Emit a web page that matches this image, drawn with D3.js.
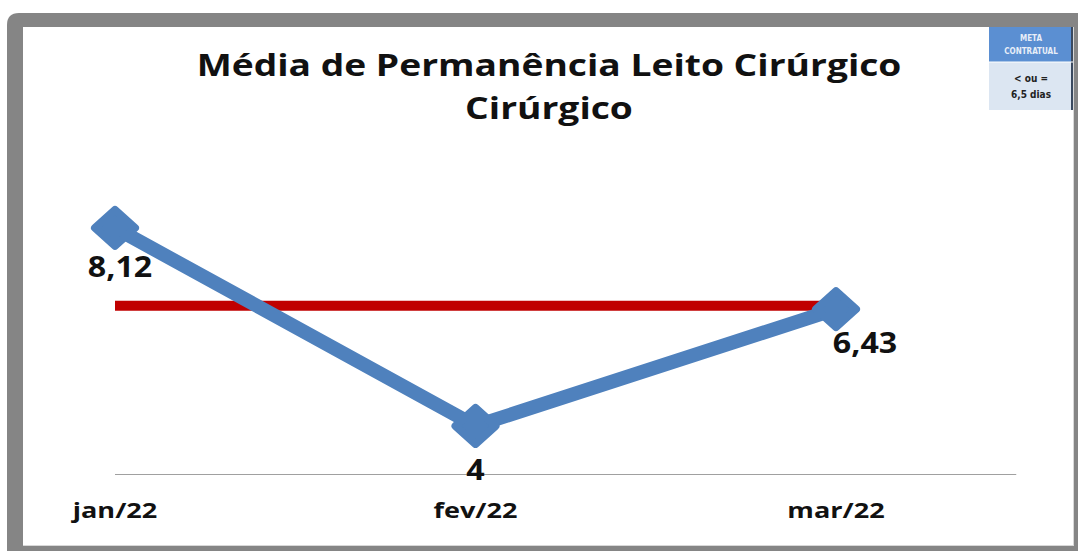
<!DOCTYPE html>
<html lang="pt">
<head>
<meta charset="utf-8">
<script src="https://cdn.jsdelivr.net/npm/d3@7"></script>
<style>
  body { margin: 0; background: #fff; }
  svg { display: block; }
</style>
</head>
<body>
<script>
var months = ["jan/22", "fev/22", "mar/22"];
var media = [8.12, 4, 6.43];
var mediaLabels = ["8,12", "4", "6,43"];
var meta = [6.5, 6.5, 6.5];
var titleLines = ["Média de Permanência Leito Cirúrgico", "Cirúrgico"];
var legendLines = ["META", "CONTRATUAL", "< ou =", "6,5 dias"];

var W = 1078, H = 551;

var svg = d3.select("body").append("svg")
  .attr("width", W)
  .attr("height", H);

// frame
svg.append("path")
  .attr("d", "M7,551 L7,25 Q7,13 19,13 L1078,13 L1078,551 Z")
  .attr("fill", "#858585");
svg.append("rect")
  .attr("x", 23).attr("y", 27)
  .attr("width", 1051).attr("height", 519)
  .attr("fill", "#fff");
svg.append("line")
  .attr("x1", 23).attr("x2", 1074).attr("y1", 545.5).attr("y2", 545.5)
  .attr("stroke", "#d8d8d8");
svg.append("line")
  .attr("x1", 1073.5).attr("x2", 1073.5).attr("y1", 27).attr("y2", 546)
  .attr("stroke", "#d8d8d8");

// title (stretched a bit wider, like the original)
svg.append("g")
  .attr("font-family", "'Open Sans', sans-serif")
  .attr("font-weight", "bold")
  .attr("font-size", 30)
  .attr("text-anchor", "middle")
  .attr("fill", "#111")
  .selectAll("text")
  .data(titleLines)
  .enter().append("text")
  .attr("transform", function(d, i) { return "translate(549," + (76 + i * 43) + ") scale(1.24,1)"; })
  .text(function(d) { return d; });

var x = d3.scalePoint()
  .domain(months)
  .range([115, 836]);

var y = d3.scaleLinear()
  .domain([3, 9])
  .range([474, 185.6]);

var step = x.step();

// x axis
svg.append("line")
  .attr("x1", x(months[0]))
  .attr("x2", x(months[2]) + step / 2)
  .attr("y1", y(3) + 0.5)
  .attr("y2", y(3) + 0.5)
  .attr("stroke", "#a0a0a0")
  .attr("stroke-width", 1);

svg.append("g")
  .attr("font-family", "'Open Sans', sans-serif")
  .attr("font-weight", "bold")
  .attr("font-size", 22)
  .attr("text-anchor", "middle")
  .attr("fill", "#111")
  .selectAll("text")
  .data(months)
  .enter().append("text")
  .attr("transform", function(d) { return "translate(" + x(d) + ",518) scale(1.23,1)"; })
  .text(function(d) { return d; });

// meta line
var line = d3.line()
  .x(function(d, i) { return x(months[i]); })
  .y(function(d) { return y(d); });

svg.append("path")
  .datum(meta)
  .attr("d", line)
  .attr("fill", "none")
  .attr("stroke", "#c00000")
  .attr("stroke-width", 10);

// media line
svg.append("path")
  .datum(media)
  .attr("d", line)
  .attr("fill", "none")
  .attr("stroke", "#4f81bd")
  .attr("stroke-width", 14)
  .attr("stroke-linejoin", "round");

var diamond = "M0,-18 L20,0 L0,18 L-20,0 Z";
svg.append("g")
  .selectAll("path")
  .data(media)
  .enter().append("path")
  .attr("transform", function(d, i) { return "translate(" + x(months[i]) + "," + y(d) + ")"; })
  .attr("d", diamond)
  .attr("fill", "#4f81bd")
  .attr("stroke", "#4f81bd")
  .attr("stroke-width", 8)
  .attr("stroke-linejoin", "round");

// data labels
var labelDx = [5, 0, 29];
var labelDy = [49, 54, 44];
svg.append("g")
  .attr("font-family", "'Open Sans', sans-serif")
  .attr("font-weight", "bold")
  .attr("font-size", 28)
  .attr("text-anchor", "middle")
  .attr("fill", "#111")
  .selectAll("text")
  .data(media)
  .enter().append("text")
  .attr("transform", function(d, i) {
    return "translate(" + (x(months[i]) + labelDx[i]) + "," + (y(d) + labelDy[i]) + ") scale(1.15,1)";
  })
  .text(function(d, i) { return mediaLabels[i]; });

// legend box
var lg = svg.append("g").attr("transform", "translate(989,27)");
lg.append("rect")
  .attr("width", 84).attr("height", 35)
  .attr("fill", "#5b8fd2");
lg.append("rect")
  .attr("y", 35)
  .attr("width", 84).attr("height", 48)
  .attr("fill", "#dce6f2");
lg.append("line")
  .attr("x1", 83).attr("x2", 83).attr("y1", 0).attr("y2", 83)
  .attr("stroke", "#3a4a60").attr("stroke-width", 2);
lg.append("line")
  .attr("x1", 0).attr("x2", 84).attr("y1", 35).attr("y2", 35)
  .attr("stroke", "#ffffff").attr("stroke-width", 1);

lg.append("g")
  .attr("font-family", "'DejaVu Sans Condensed', sans-serif")
  .attr("font-weight", "bold")
  .attr("text-anchor", "middle")
  .selectAll("text")
  .data(legendLines)
  .enter().append("text")
  .attr("x", 42)
  .attr("y", function(d, i) { return [14, 27, 55, 71][i]; })
  .attr("font-size", function(d, i) { return i < 2 ? 8 : 10; })
  .attr("fill", function(d, i) { return i < 2 ? "#e8eef8" : "#222"; })
  .text(function(d) { return d; });
</script>
</body>
</html>
